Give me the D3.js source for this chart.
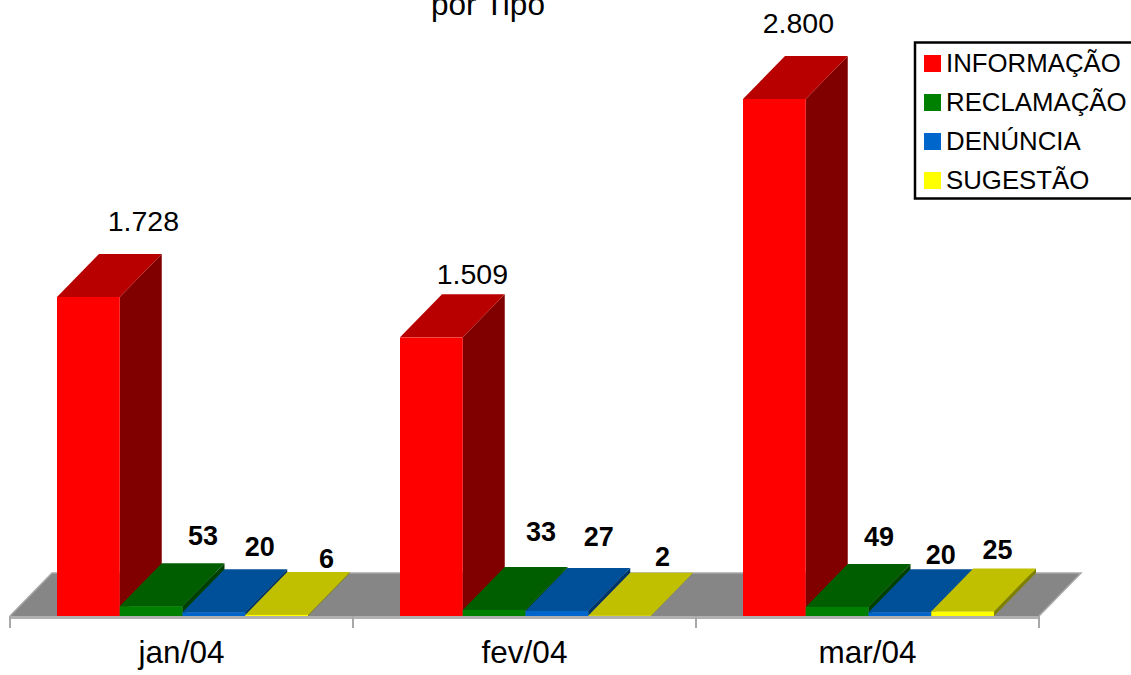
<!DOCTYPE html>
<html><head><meta charset="utf-8">
<script src="https://cdn.jsdelivr.net/npm/d3@7"></script>
<style>
html,body{margin:0;padding:0;background:#fff;overflow:hidden}
svg{display:block}
text{font-family:"Liberation Sans",Arial,sans-serif;fill:#000}
</style></head><body>
<svg id="c" width="1131" height="675"></svg>
<script>
const categories = ["jan/04","fev/04","mar/04"];
const seriesNames = ["INFORMAÇÃO","RECLAMAÇÃO","DENÚNCIA","SUGESTÃO"];
const informacao = [1728,1509,2800];
const reclamacao = [53,33,49];
const denuncia = [20,27,20];
const sugestao = [6,2,25];
const seriesValues = [informacao,reclamacao,denuncia,sugestao];
const title = "por Tipo";

const ptBR = d3.formatLocale({decimal:",",thousands:".",grouping:[3],currency:["R$",""]}).format(",");

const baseY = 616, dx = 42, dy = 43;
const svg = d3.select("#c");
const x0 = d3.scaleBand().domain(categories).range([10,1039]);
const x1 = d3.scaleBand().domain(seriesNames).range([47,298]);
const y = d3.scaleLinear().domain([0,2800]).range([baseY,99]);

const front = ["#ff0000","#008000","#0066cc","#ffff00"];
const top_  = ["#b80000","#005e00","#004f99","#c0c000"];
const side  = ["#800000","#004000","#003366","#808000"];

// floor
const L = x0.range()[0], R = x0.range()[1];
svg.append("polygon")
  .attr("points",[[L,baseY],[L+dx,baseY-dy],[R+dx,baseY-dy],[R,baseY]].join(" "))
  .attr("fill","#868686");
svg.append("polyline")
  .attr("points",[[L,baseY],[L+dx,baseY-dy],[R+dx,baseY-dy],[R,baseY]].join(" "))
  .attr("fill","none").attr("stroke","#a8a8a8").attr("stroke-width",1.5);
svg.append("rect").attr("x",L).attr("y",baseY).attr("width",R-L).attr("height",3).attr("fill","#b0b0b0");

// category axis
const axis = svg.append("g").attr("transform",`translate(0,${baseY})`)
  .call(d3.axisBottom(x0).tickSize(0).tickPadding(25));
axis.select(".domain").remove();
axis.selectAll("text").attr("font-family","Liberation Sans").style("font-size","31.5px");
[...categories.map(c=>x0(c)),R].forEach(t=>{
  svg.append("line").attr("x1",t).attr("x2",t).attr("y1",baseY).attr("y2",baseY+12)
    .attr("stroke","#a8a8a8").attr("stroke-width",2);
});

// bars (left to right so each one lies over its neighbour's side wall)
const labelNudges = [
  [[13,-66],[10,-61],[4,-56],[8,-47]],
  [[-1,-53],[5,-69],[0,-65],[1,-50]],
  [[-18,-66],[0,-61],[-1,-48],[-7,-52]]
];
categories.forEach((c,ci)=>{
  seriesNames.forEach((s,si)=>{
    const v = seriesValues[si][ci];
    const xa = x0(c)+x1(s), xb = xa+x1.bandwidth();
    const yt = y(v);
    const g = svg.append("g");
    g.append("polygon").attr("points",[[xb,baseY],[xb+dx,baseY-dy],[xb+dx,yt-dy],[xb,yt]].join(" ")).attr("fill",side[si]);
    g.append("polygon").attr("points",[[xa,yt],[xa+dx,yt-dy],[xb+dx,yt-dy],[xb,yt]].join(" ")).attr("fill",top_[si]);
    g.append("rect").attr("x",xa).attr("y",yt).attr("width",xb-xa).attr("height",baseY-yt).attr("fill",front[si]);
  });
});
categories.forEach((c,ci)=>{
  seriesNames.forEach((s,si)=>{
    const v = seriesValues[si][ci];
    const cx = x0(c)+x1(s)+x1.bandwidth()/2;
    const n = labelNudges[ci][si];
    svg.append("text").attr("x",cx+dx+n[0]).attr("y",y(v)+n[1])
      .attr("text-anchor","middle")
      .style("font-size",si===0?"28.5px":"27px")
      .style("font-weight",si===0?"400":"700")
      .text(ptBR(v));
  });
});

// title
svg.append("text").attr("x",488).attr("y",14.5).attr("text-anchor","middle").style("font-size","31.5px").text(title);

// legend
const lg = svg.append("g");
lg.append("rect").attr("x",915).attr("y",42.5).attr("width",220).attr("height",156)
  .attr("fill","#fff").attr("stroke","#000").attr("stroke-width",2.5);
const ly = d3.scalePoint().domain(seriesNames).range([63.5,180.5]);
seriesNames.forEach((s,i)=>{
  lg.append("rect").attr("x",924).attr("y",ly(s)-8.5).attr("width",17).attr("height",17).attr("fill",front[i]);
  lg.append("text").attr("x",946).attr("y",ly(s)+8).style("font-size","25.8px").text(s);
});
</script>
</body></html>
